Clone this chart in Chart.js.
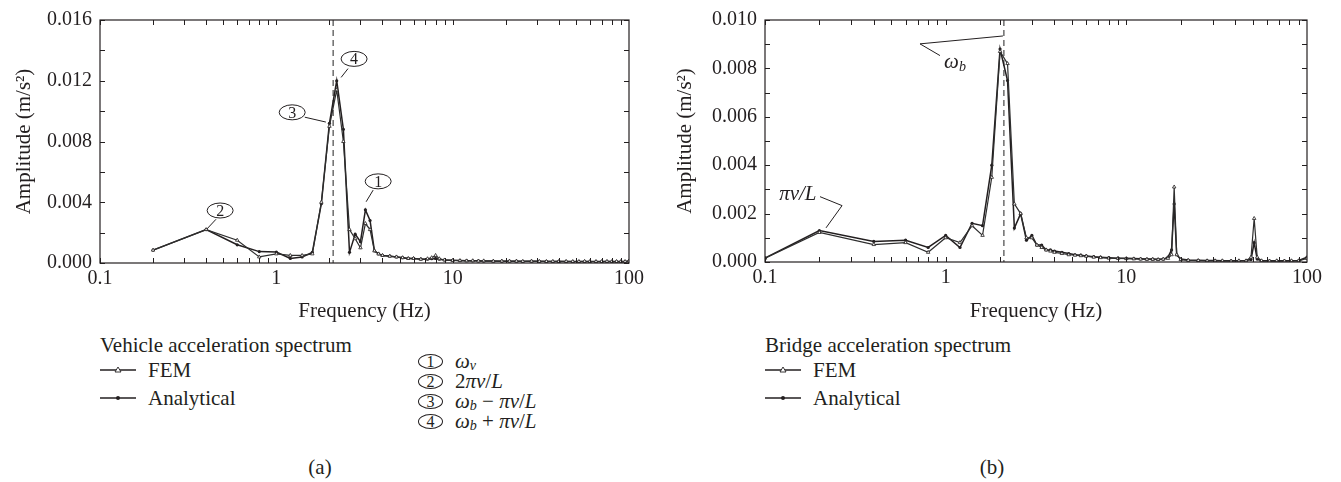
<!DOCTYPE html>
<html>
<head>
<meta charset="utf-8">
<script src="https://cdn.jsdelivr.net/npm/chart.js@4.4.0/dist/chart.umd.min.js"></script>
<style>
  body { margin: 0; background: #fff; width: 1341px; height: 482px; position: relative; overflow: hidden;
         color: #231f20; font-family: 'Liberation Serif', 'Times New Roman', serif; }
  canvas { position: absolute; top: 0; }
  .txt { position: absolute; font-size: 21px; line-height: 20px; white-space: nowrap; }
  .row { position: absolute; height: 20px; display: flex; align-items: center; font-size: 21px; line-height: 20px; white-space: nowrap; }
  .row svg { margin-right: 12px; }
  .circ { display: inline-block; box-sizing: border-box; width: 25px; height: 15px; border: 1px solid #231f20; border-radius: 50%;
          text-align: center; line-height: 13px; font-size: 16px; margin-right: 12px; }
  sub { font-size: 14px; line-height: 0; position: relative; top: 2px; vertical-align: baseline; }
</style>
</head>
<body>
<canvas id="chartA" width="650" height="330" style="left:0"></canvas>
<canvas id="chartB" width="681" height="330" style="left:660px"></canvas>

<!-- (a) legend -->
<div class="txt" style="left:100px;top:335px">Vehicle acceleration spectrum</div>
<div class="row" style="left:100px;top:360px">
  <svg width="36" height="10"><line x1="0" y1="5" x2="36" y2="5" stroke="#231f20" stroke-width="1.3"/><polygon points="18,2 21,7 15,7" fill="#fff" stroke="#231f20" stroke-width="0.9"/></svg><span>FEM</span></div>
<div class="row" style="left:100px;top:388px">
  <svg width="36" height="10"><line x1="0" y1="5" x2="36" y2="5" stroke="#231f20" stroke-width="1.3"/><circle cx="18" cy="5" r="2" fill="#231f20"/></svg><span>Analytical</span></div>
<div class="row" style="left:418px;top:351px"><span class="circ">1</span><span><i>ω</i><sub><i>v</i></sub></span></div>
<div class="row" style="left:418px;top:371px"><span class="circ">2</span><span>2<i>πν</i>/<i>L</i></span></div>
<div class="row" style="left:418px;top:391px"><span class="circ">3</span><span><i>ω</i><sub><i>b</i></sub> − <i>πν</i>/<i>L</i></span></div>
<div class="row" style="left:418px;top:411px"><span class="circ">4</span><span><i>ω</i><sub><i>b</i></sub> + <i>πν</i>/<i>L</i></span></div>
<div class="txt" style="left:305px;top:457px;width:30px;text-align:center">(a)</div>

<!-- (b) legend -->
<div class="txt" style="left:765px;top:335px">Bridge acceleration spectrum</div>
<div class="row" style="left:765px;top:360px">
  <svg width="36" height="10"><line x1="0" y1="5" x2="36" y2="5" stroke="#231f20" stroke-width="1.3"/><polygon points="18,2 21,7 15,7" fill="#fff" stroke="#231f20" stroke-width="0.9"/></svg><span>FEM</span></div>
<div class="row" style="left:765px;top:388px">
  <svg width="36" height="10"><line x1="0" y1="5" x2="36" y2="5" stroke="#231f20" stroke-width="1.3"/><circle cx="18" cy="5" r="2" fill="#231f20"/></svg><span>Analytical</span></div>
<div class="txt" style="left:977px;top:457px;width:30px;text-align:center">(b)</div>

<script>
// Vehicle / bridge acceleration spectra, FEM vs analytical

const INK = '#231f20';
const SERIF = "'Liberation Serif', 'Times New Roman', serif";

// ---- data ----
const vehFreq = [0.2, 0.4, 0.6, 0.8, 1.0, 1.2, 1.4, 1.6, 1.8, 2.0,
                 2.2, 2.4, 2.6, 2.8, 3.0, 3.2, 3.4, 3.6, 3.8, 4.0,
                 4.4, 4.8, 5.2, 5.6, 6.0, 6.6, 7.2, 7.6, 8.0, 8.4,
                 9.0, 10, 11, 12, 13, 14, 15, 17, 19, 21,
                 23, 25, 28, 31, 34, 37, 40, 44, 48, 52,
                 56, 60, 65, 70, 75, 80, 85, 90, 95, 100];
const vehAnalytical = [0.00085, 0.0022, 0.0012, 0.00075, 0.00072, 0.0003, 0.0004, 0.0007, 0.0039, 0.0092,
                       0.0120, 0.0088, 0.0007, 0.0019, 0.0014, 0.0035, 0.0028, 0.0008, 0.0006, 0.0005,
                       0.00045, 0.0004, 0.00035, 0.0003, 0.0003, 0.00025, 0.00025, 0.00028, 0.0003, 0.00025,
                       0.0002, 0.00018, 0.00016, 0.00015, 0.00014, 0.00014, 0.00013, 0.00013, 0.00012, 0.00012,
                       0.00012, 0.00011, 0.00012, 0.00011, 0.00011, 0.0001, 0.00011, 0.0001, 0.0001, 0.0001,
                       0.0001, 0.0001, 0.0001, 0.0001, 0.0001, 0.0001, 0.0001, 0.0001, 0.0001, 0.00012];
const vehFEM = [0.00085, 0.0022, 0.0015, 0.0004, 0.0006, 0.0005, 0.0005, 0.0006, 0.0040, 0.0090,
                0.0114, 0.0080, 0.0022, 0.0016, 0.0010, 0.0026, 0.0022, 0.0008, 0.0006, 0.0005,
                0.00045, 0.0004, 0.00035, 0.0003, 0.0003, 0.00025, 0.00028, 0.00035, 0.0005, 0.00028,
                0.0002, 0.00017, 0.00016, 0.00014, 0.00015, 0.00013, 0.00014, 0.00012, 0.00013, 0.00012,
                0.00012, 0.00011, 0.00012, 0.00011, 0.0001, 0.00011, 0.0001, 0.00011, 0.0001, 0.0001,
                0.00011, 0.0001, 0.0001, 0.0001, 0.00011, 0.0001, 0.0001, 0.0001, 0.0001, 0.00013];

const brgFreq = [0.1, 0.2, 0.4, 0.6, 0.8, 1.0, 1.2, 1.4, 1.6, 1.8,
                 2.0, 2.2, 2.4, 2.6, 2.8, 3.0, 3.2, 3.4, 3.6, 3.8,
                 4.0, 4.4, 4.8, 5.2, 5.6, 6.0, 6.6, 7.2, 8.0, 9.0,
                 10, 11, 12, 13, 14, 15, 16, 17, 17.8, 18.4,
                 19.0, 20, 22, 25, 28, 31, 34, 38, 42, 46,
                 49, 51, 53, 56, 62, 68, 75, 82, 90, 100];
const brgAnalytical = [0.00016, 0.0013, 0.00085, 0.0009, 0.0006, 0.0011, 0.0006, 0.0016, 0.0015, 0.0040,
                       0.0088, 0.0075, 0.0014, 0.0020, 0.0009, 0.0011, 0.0007, 0.0007, 0.0005, 0.0005,
                       0.00045, 0.0004, 0.00035, 0.0003, 0.00028, 0.00025, 0.00022, 0.0002, 0.00018, 0.00016,
                       0.00015, 0.00014, 0.00013, 0.00012, 0.00012, 0.00011, 0.00012, 0.0002, 0.0005, 0.0024,
                       0.0003, 0.00012, 0.00008, 0.00007, 0.00006, 0.00006, 0.00005, 0.00005, 0.00005, 0.00006,
                       0.0001, 0.0008, 0.00012, 0.00005, 0.00005, 0.00005, 0.00005, 0.00005, 0.00006, 0.0002];
const brgFEM = [0.00016, 0.00122, 0.00072, 0.0008, 0.0004, 0.001, 0.0008, 0.0015, 0.0011, 0.0035,
                0.0087, 0.0082, 0.0024, 0.0020, 0.0010, 0.0010, 0.0007, 0.0006, 0.0005, 0.00045,
                0.0004, 0.00035, 0.0003, 0.00028, 0.00026, 0.00024, 0.0002, 0.00018, 0.00016, 0.00015,
                0.00014, 0.00013, 0.00012, 0.00011, 0.00011, 0.0001, 0.00012, 0.00015, 0.0003, 0.0031,
                0.0003, 0.0001, 0.00007, 0.00006, 0.00005, 0.00005, 0.00005, 0.00004, 0.00005, 0.00005,
                0.0002, 0.0018, 0.0002, 0.00005, 0.00004, 0.00005, 0.00004, 0.00005, 0.00005, 0.00015];

const freqTicks = [0.1, 1, 10, 100];
const vehAmpTicks = [0, 0.004, 0.008, 0.012, 0.016];
const brgAmpTicks = [0, 0.002, 0.004, 0.006, 0.008, 0.010];
const omegaB = 2.1; // Hz, dashed line

/**
 * Frame, inward ticks, dashed omega_b line and leader-line notes
 */
const framePlugin = {
  id: 'frame',
  beforeDatasetsDraw(chart, args, opts) {
    const { ctx, chartArea: a, scales: { x } } = chart;
    const px = x.getPixelForValue(opts.dashAt);
    ctx.save();
    ctx.setLineDash([6, 4]);
    ctx.strokeStyle = '#555';
    ctx.lineWidth = 1.3;
    ctx.beginPath();
    ctx.moveTo(px, a.top);
    ctx.lineTo(px, a.bottom);
    ctx.stroke();
    ctx.restore();
  },
  afterDraw(chart, args, opts) {
    const { ctx, chartArea: a, scales: { x, y } } = chart;
    const T = 5;
    ctx.save();
    ctx.strokeStyle = INK;
    ctx.lineWidth = 1.2;
    ctx.strokeRect(a.left, a.top, a.right - a.left, a.bottom - a.top);

    ctx.beginPath();
    // log minor ticks 1..9 in each decade
    for (let d = 0.1; d < 99; d *= 10) {
      for (let m = 1; m < 10; m++) {
        const px = Math.round(x.getPixelForValue(d * m)) + 0.5;
        ctx.moveTo(px, a.bottom); ctx.lineTo(px, a.bottom - T);
        ctx.moveTo(px, a.top); ctx.lineTo(px, a.top + T);
      }
    }
    for (let v = 0; v <= y.max + 1e-9; v += opts.yStep) {
      const py = Math.round(y.getPixelForValue(v)) + 0.5;
      ctx.moveTo(a.left, py); ctx.lineTo(a.left + T, py);
      ctx.moveTo(a.right, py); ctx.lineTo(a.right - T, py);
    }
    ctx.lineWidth = 1;
    ctx.stroke();

    drawNotes(chart, opts.notes || []);
    ctx.restore();
  }
};

function drawNotes(chart, notes) {
  const { ctx, scales: { x, y } } = chart;
  const P = p => [x.getPixelForValue(p[0]), y.getPixelForValue(p[1])];
  ctx.strokeStyle = INK;
  ctx.fillStyle = INK;
  ctx.lineWidth = 1;
  notes.forEach(n => {
    if (n.path) {
      ctx.beginPath();
      n.path.forEach((p, i) => {
        const [px, py] = P(p);
        if (i) ctx.lineTo(px, py); else ctx.moveTo(px, py);
      });
      ctx.stroke();
    }
    const [cx, cy] = P(n.at);
    ctx.textBaseline = 'middle';
    if (n.kind === 'circle') {
      ctx.fillStyle = '#fff';
      ctx.beginPath();
      ctx.ellipse(cx, cy, 13, 7.5, 0, 0, Math.PI * 2);
      ctx.fill();
      ctx.stroke();
      ctx.fillStyle = INK;
      ctx.font = '16px ' + SERIF;
      ctx.textAlign = 'center';
      ctx.fillText(n.text, cx, cy + 1);
    } else {
      ctx.textAlign = 'left';
      ctx.font = 'italic 21px ' + SERIF;
      const w1 = ctx.measureText(n.text).width;
      let w2 = 0;
      if (n.sub) {
        ctx.font = 'italic 14px ' + SERIF;
        w2 = ctx.measureText(n.sub).width;
      }
      const left = cx - (w1 + w2) / 2;
      ctx.font = 'italic 21px ' + SERIF;
      ctx.fillText(n.text, left, cy);
      if (n.sub) {
        ctx.font = 'italic 14px ' + SERIF;
        ctx.fillText(n.sub, left + w1, cy + 5);
      }
    }
  });
}

/**
 * Builds one spectrum chart
 */
function makeChart(id, freq, fem, ana, ampTicks, box, frameOpts) {
  const ctx = document.getElementById(id).getContext('2d');
  const pts = vals => freq.map((f, i) => ({ x: f, y: vals[i] }));
  const tickFont = { family: SERIF, size: 20 };
  const titleFont = { family: SERIF, size: 21 };

  return new Chart(ctx, {
    type: 'line',
    data: {
      datasets: [
        {
          label: 'FEM',
          data: pts(fem),
          borderColor: '#2e2e2e',
          borderWidth: 1.2,
          pointStyle: 'triangle',
          pointRadius: 2,
          pointBackgroundColor: '#fff',
          pointBorderColor: INK,
          pointBorderWidth: 0.8,
          tension: 0
        },
        {
          label: 'Analytical',
          data: pts(ana),
          borderColor: INK,
          borderWidth: 1.5,
          pointStyle: 'circle',
          pointRadius: 1.6,
          pointBackgroundColor: INK,
          pointBorderWidth: 0,
          tension: 0
        }
      ]
    },
    options: {
      responsive: false,
      animation: false,
      devicePixelRatio: 1,
      layout: { padding: { top: box.top, right: box.right, left: 0, bottom: 0 } },
      plugins: {
        legend: { display: false },
        tooltip: { enabled: false },
        frame: frameOpts
      },
      scales: {
        x: {
          type: 'logarithmic',
          min: 0.1,
          max: 100,
          grid: { display: false, drawTicks: false },
          border: { display: false },
          afterBuildTicks: s => { s.ticks = freqTicks.map(v => ({ value: v })); },
          afterFit: s => { s.height = box.xHeight; },
          ticks: {
            color: INK, font: tickFont, padding: 4, autoSkip: false, maxRotation: 0,
            callback: v => String(v)
          },
          title: { display: true, text: 'Frequency (Hz)', color: INK, font: titleFont, padding: { top: 0, bottom: 6 } }
        },
        y: {
          min: 0,
          max: ampTicks[ampTicks.length - 1],
          grid: { display: false, drawTicks: false },
          border: { display: false },
          afterBuildTicks: s => { s.ticks = ampTicks.map(v => ({ value: v })); },
          afterFit: s => { s.width = box.yWidth; },
          ticks: { color: INK, font: tickFont, padding: 8, callback: v => v.toFixed(3) },
          title: { display: true, text: 'Amplitude (m/s²)', color: INK, font: titleFont, padding: { top: box.titlePad, bottom: 0 } }
        }
      }
    },
    plugins: [framePlugin]
  });
}

makeChart('chartA', vehFreq, vehFEM, vehAnalytical, vehAmpTicks,
  { top: 13, right: 21, xHeight: 67, yWidth: 100, titlePad: 12 },
  {
    dashAt: omegaB,
    yStep: 0.002,
    notes: [
      { kind: 'circle', text: '4', at: [2.76, 0.01344], path: [[2.55, 0.0128], [2.33, 0.01222]] },
      { kind: 'circle', text: '3', at: [1.23, 0.00992], path: [[1.45, 0.0096], [1.91, 0.00928]] },
      { kind: 'circle', text: '2', at: [0.48, 0.003456], path: [[0.455, 0.00288], [0.404, 0.00224]] },
      { kind: 'circle', text: '1', at: [3.78, 0.005376], path: [[3.54, 0.0048], [3.23, 0.004032]] }
    ]
  });

makeChart('chartB', brgFreq, brgFEM, brgAnalytical, brgAmpTicks,
  { top: 13, right: 34, xHeight: 68, yWidth: 105, titlePad: 13 },
  {
    dashAt: omegaB,
    yStep: 0.001,
    notes: [
      { kind: 'text', text: 'πν/L', at: [0.152, 0.00278], path: [[0.2016, 0.0027], [0.267, 0.00233], [0.2176, 0.00141]] },
      { kind: 'text', text: 'ω', sub: 'b', at: [1.126, 0.00825], path: [[2.075, 0.00934], [0.7209, 0.009014], [0.93, 0.00853]] }
    ]
  });
</script>
</body>
</html>
